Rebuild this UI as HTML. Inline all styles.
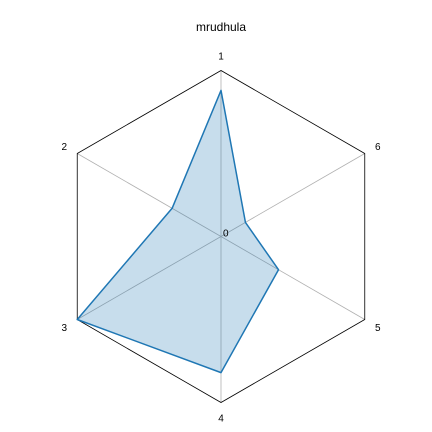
<!DOCTYPE html>
<html><head><meta charset="utf-8"><style>
body{margin:0;background:#fff}
svg{display:block;font-family:"Liberation Sans","DejaVu Sans",sans-serif}
</style></head><body>
<svg id="chart" width="432" height="432">
<rect width="432" height="432" fill="#fff"/>
<text x="221" y="31" text-anchor="middle" font-size="12">mrudhula</text>
</svg>
<script>
const categories=["1","2","3","4","5","6"];
const values=[0.88,0.34,1.0,0.82,0.40,0.17];
const maxVal=1.0;
const cx=221,cy=236.5,R=166;
const svg=document.getElementById('chart');
const NS='http://www.w3.org/2000/svg';
function ang(i){return Math.PI/2+i*2*Math.PI/categories.length;}
function px(i,v){return cx+Math.cos(ang(i))*R*v/maxVal;}
function py(i,v){return cy-Math.sin(ang(i))*R*v/maxVal;}
function mk(t,a){const e=document.createElementNS(NS,t);for(const k in a)e.setAttribute(k,a[k]);svg.appendChild(e);return e;}
categories.forEach((c,i)=>{
  const s=mk('line',{x1:cx,y1:cy,x2:px(i,maxVal),y2:py(i,maxVal),stroke:'#b0b0b0','stroke-width':0.8});
  
  
});
const outer=mk('polygon',{points:categories.map((c,i)=>px(i,maxVal)+','+py(i,maxVal)).join(' '),fill:'none',stroke:'#000','stroke-width':0.8});


const pts=values.map((v,i)=>px(i,v)+','+py(i,v)).join(' ');
const area=mk('polygon',{points:pts,fill:'#1f77b4','fill-opacity':0.25,stroke:'#1f77b4','stroke-width':1.5,'stroke-linejoin':'round'});


categories.forEach((c,i)=>{
  const lx=cx+Math.cos(ang(i))*(R+15), ly=cy-Math.sin(ang(i))*(R+15)+4;
  const t=mk('text',{x:lx,y:ly,'text-anchor':'middle','font-size':10});
  t.textContent=c;
  
  
});
const z=mk('text',{x:cx+2,y:cy,'font-size':10});
z.textContent='0';


</script>
</body></html>
